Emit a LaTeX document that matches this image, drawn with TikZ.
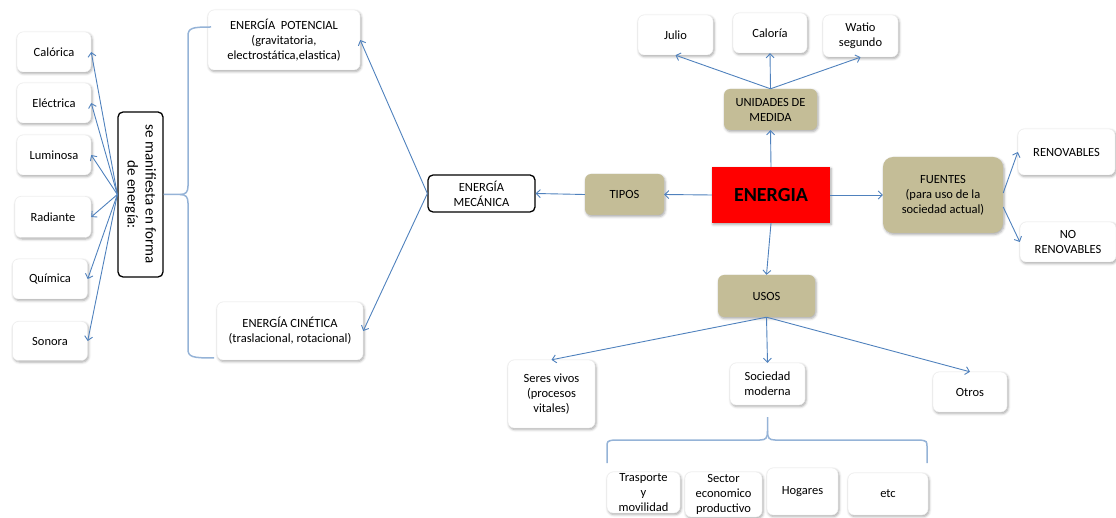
\documentclass[tikz,border=0pt]{standalone}
\usepackage{fontspec}
\setmainfont{Carlito}
\usetikzlibrary{arrows.meta,shadows.blur}
\definecolor{linkblue}{HTML}{4F81BD}
\definecolor{braceblue}{HTML}{95B3D7}
\definecolor{tanfill}{HTML}{C4BD97}
\begin{document}
\begin{tikzpicture}[x=1pt,y=-1pt,
  every node/.style={font=\fontsize{12.5}{15}\selectfont, align=center, inner sep=0pt},
  softshadow/.style={blur shadow={shadow xshift=1pt, shadow yshift=-1.5pt, shadow blur radius=2.5pt, shadow opacity=35}},
  card/.style={fill=white, rounded corners=6pt, softshadow, draw=black!8, line width=0.4pt},
  tanbox/.style={fill=tanfill, rounded corners=6pt, softshadow},
  outlined/.style={draw=black, line width=1.3pt, fill=white, rounded corners=5pt},
  conn/.style={draw=linkblue, line width=0.9pt, -{Straight Barb[length=4pt,width=8pt]}},
  bracket/.style={draw=braceblue, line width=1.5pt},
  ]
\useasboundingbox (0,0) rectangle (1116,518);

% forms of energy (left column)
\node[card, minimum width=74pt, minimum height=40pt] (cal) at (54,52) {Calórica};
\node[card, minimum width=74pt, minimum height=40pt] (ele) at (54,103) {Eléctrica};
\node[card, minimum width=74pt, minimum height=40pt] (lum) at (54,155) {Luminosa};
\node[card, minimum width=76pt, minimum height=41pt] (rad) at (53,217) {Radiante};
\node[card, minimum width=75pt, minimum height=40pt] (qui) at (50,279) {Química};
\node[card, minimum width=75pt, minimum height=39pt] (son) at (50,341) {Sonora};

% vertical label box
\node[outlined, rotate=-90, minimum width=165pt, minimum height=45pt,
      font=\fontsize{15}{18}\selectfont] (manif) at (140.5,194.5)
      {se manifiesta en forma\\de energía:};

% mechanical energy branch
\node[card, minimum width=152pt, minimum height=60pt] (pot) at (284,40)
      {ENERGÍA~ POTENCIAL\\(gravitatoria,\\electrostática,elastica)};
\node[card, minimum width=146pt, minimum height=58pt] (cin) at (290,331)
      {ENERGÍA CINÉTICA\\(traslacional, rotacional)};
\node[outlined, minimum width=107pt, minimum height=37pt] (mec) at (481.5,193.5)
      {ENERGÍA\\MECÁNICA};
\node[tanbox, minimum width=79pt, minimum height=41pt] (tipos) at (624.5,194.5) {TIPOS};

% central concept
\node[fill=red, minimum width=118pt, minimum height=56pt, softshadow,
      font=\fontsize{20}{24}\selectfont\bfseries] (energia) at (771,195) {ENERGIA};

% units
\node[tanbox, minimum width=93pt, minimum height=41pt] (unid) at (770.5,109.5)
      {UNIDADES DE\\MEDIDA};
\node[card, minimum width=75pt, minimum height=40pt] (julio) at (675.5,35) {Julio};
\node[card, minimum width=74pt, minimum height=40pt] (caloria) at (770,33) {Caloría};
\node[card, minimum width=75pt, minimum height=42pt] (watio) at (860.5,36) {Watio\\segundo};

% sources
\node[tanbox, rounded corners=10pt, minimum width=120pt, minimum height=76pt] (fuentes) at (943,195)
      {FUENTES\\(para uso de la\\sociedad actual)};
\node[card, minimum width=97pt, minimum height=46pt] (renov) at (1066.5,152) {RENOVABLES};
\node[card, minimum width=96pt, minimum height=40pt] (norenov) at (1068,242) {NO\\RENOVABLES};

% uses
\node[tanbox, minimum width=97pt, minimum height=42pt] (usos) at (766.5,296) {USOS};
\node[card, minimum width=87pt, minimum height=68pt] (seres) at (551.5,394)
      {Seres vivos\\(procesos\\vitales)};
\node[card, minimum width=75pt, minimum height=42pt] (socied) at (767.5,384) {Sociedad\\moderna};
\node[card, minimum width=74pt, minimum height=40pt] (otros) at (970,392) {Otros};

\node[card, minimum width=73pt, minimum height=41pt] (trasp) at (643.5,492.5)
      {Trasporte\\y\\movilidad};
\node[card, minimum width=77pt, minimum height=45pt] (sector) at (723.5,494.5)
      {Sector\\economico\\productivo};
\node[card, minimum width=71pt, minimum height=47pt] (hogares) at (802.5,491.5) {Hogares};
\node[card, minimum width=80pt, minimum height=42pt] (etc) at (888,494) {etc};

% connectors
\draw[conn] (energia.north) -- (unid.south);
\draw[conn] (energia.west) -- (tipos.east);
\draw[conn] (energia.east) -- (fuentes.west);
\draw[conn] (energia.south) -- (usos.north);
\draw[conn] (tipos.west) -- (mec.east);

\draw[conn] (unid.north) -- (julio.south);
\draw[conn] (unid.north) -- (caloria.south);
\draw[conn] (unid.north) -- (watio.south);

\draw[conn] ([yshift=2pt]fuentes.east) -- (renov.west);
\draw[conn] ([yshift=-12pt]fuentes.east) -- (norenov.west);

\draw[conn] (usos.south) -- (seres.north);
\draw[conn] (usos.south) -- (socied.north);
\draw[conn] (usos.south) -- (otros.north);

\draw[conn] (mec.west) -- (pot.east);
\draw[conn] (mec.west) -- (cin.east);

\foreach \t in {cal,ele,lum,rad,qui,son}
  \draw[conn] (manif.south) -- (\t.east);

% brace grouping the two mechanical forms
\coordinate (bt) at (211,27);
\coordinate (bb) at (214,358);
\coordinate (bm) at (180,194.5);
\draw[bracket] (bt) .. controls (192,27) and (188,28) .. (188,36) -- (188,186)
      .. controls (188,192) and (186,194.5) .. (bm) -- (manif.north);
\draw[bracket] (bb) .. controls (192,358) and (188,357) .. (188,349) -- (188,203)
      .. controls (188,197) and (186,194.5) .. (bm);

% brace grouping the sectors of modern society
\coordinate (st) at (767.5,417);
\coordinate (sl) at (607,463);
\coordinate (sr) at (927,463);
\draw[bracket] (sl) -- (607,448) .. controls (607,441) .. (614,440) -- (760,440)
      .. controls (766,440) and (767.5,438) .. (767.5,431) -- (st);
\draw[bracket] (sr) -- (927,448) .. controls (927,441) .. (920,440) -- (775,440)
      .. controls (769,440) and (767.5,438) .. (767.5,431);
\end{tikzpicture}
\end{document}
